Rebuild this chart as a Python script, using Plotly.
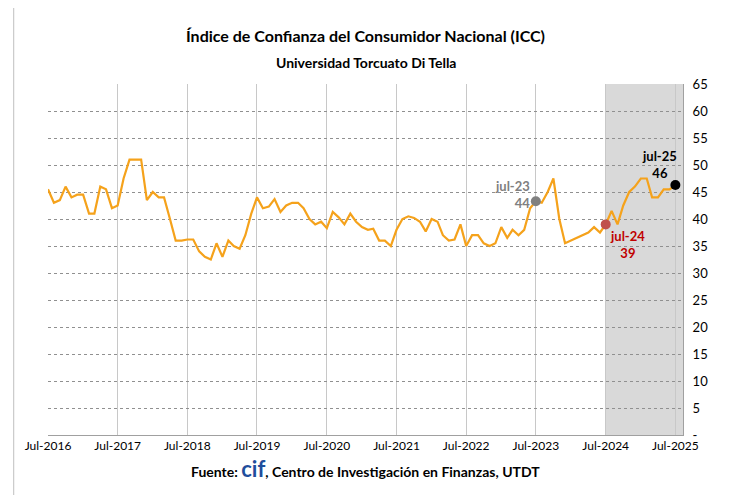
import plotly.graph_objects as go
import pandas as pd

# monthly ICC values, Jul-2016 .. Jul-2025
icc = [45.5, 43, 43.5, 46, 44, 44.5,
       44.5, 41, 41, 46, 45.5, 42, 42.5, 47.5, 51, 51, 51, 43.5,
       45, 44, 44, 40, 36, 36, 36.2, 36.2, 34, 33, 32.5, 35.5,
       33, 36, 35, 34.5, 37, 41, 44, 42, 42.3, 43.7, 41.3, 42.5,
       43, 43, 42, 40, 39, 39.5, 38.3, 41.3, 40.3, 39, 41, 39.5,
       38.5, 38, 38.2, 36, 36, 35, 38, 40, 40.5, 40.2, 39.5, 37.7,
       40, 39.5, 37, 36, 36.2, 39, 35, 37, 37, 35.5, 35, 35.5,
       38.5, 36.5, 38, 37, 38, 42, 43.3, 43, 45, 47.5, 40, 35.5,
       36, 36.5, 37, 37.5, 38.5, 37.5, 39, 41.5, 39, 42.5, 45, 46,
       47.5, 47.5, 44, 44, 45.5, 45.5, 46.3]
dates = pd.date_range("2016-07-01", periods=len(icc), freq="MS")

tick_dates = pd.date_range("2016-07-01", "2025-07-01", freq="12MS")
tick_labels = [d.strftime("Jul-%Y") for d in tick_dates]
y_ticks = list(range(0, 70, 5))
y_labels = ["-"] + [str(v) for v in y_ticks[1:]]

marks = [("2023-07-01", 43.3, "#808080"),
         ("2024-07-01", 39, "#c0504d"),
         ("2025-07-01", 46.3, "black")]

fig = go.Figure()
fig.add_shape(type="rect", xref="x", yref="paper", x0="2024-07-01", x1="2025-08-10",
              y0=0, y1=1, fillcolor="#d9d9d9", line_width=0, layer="below")
fig.add_shape(type="rect", xref="paper", yref="paper", x0=-0.054, x1=1.095,
              y0=-0.175, y1=1.23, fillcolor="rgba(0,0,0,0)",
              line=dict(color="#bfbfbf", width=1))

fig.add_trace(go.Scatter(x=dates, y=icc, mode="lines",
                         line=dict(color="#f5a21b", width=2.2), hoverinfo="skip"))
for d, v, c in marks:
    fig.add_trace(go.Scatter(x=[d], y=[v], mode="markers", cliponaxis=False,
                             marker=dict(color=c, size=10), hoverinfo="skip"))

fig.add_annotation(x="2023-07-01", y=43.3, text="<b>jul-23<br>44</b>", showarrow=False,
                   xanchor="right", yanchor="bottom", xshift=-4, yshift=-12,
                   align="right", font=dict(family="Lato", size=13, color="#808080"))
fig.add_annotation(x="2024-07-01", y=39, text="<b>jul-24<br>39</b>", showarrow=False,
                   xanchor="left", yanchor="top", xshift=2, yshift=-2,
                   align="center", font=dict(family="Lato", size=13, color="#c00000"))
fig.add_annotation(x="2025-07-01", y=46.3, text="<b>jul-25<br>46</b>", showarrow=False,
                   xanchor="right", yanchor="bottom", xshift=4, yshift=2,
                   align="center", font=dict(family="Lato", size=13, color="black"))

fig.add_annotation(xref="paper", yref="paper", x=0.5, y=1.17, showarrow=False,
                   text="<b>Índice de Confianza del Consumidor Nacional (ICC)</b>",
                   font=dict(family="Lato", size=16, color="black"))
fig.add_annotation(xref="paper", yref="paper", x=0.5, y=1.09, showarrow=False,
                   text="<b>Universidad Torcuato Di Tella</b>",
                   font=dict(family="Lato", size=14, color="black"))
fig.add_annotation(xref="paper", yref="paper", x=0.5, y=-0.14, showarrow=False,
                   text="<b>Fuente: <span style='font-size:22px;color:#1f4e9c'>cif</span>, Centro de Investigación en Finanzas, UTDT</b>",
                   font=dict(family="Lato", size=14, color="black"))

fig.update_layout(
    width=730, height=495, showlegend=False,
    margin=dict(l=40, r=55, t=76, b=68),
    plot_bgcolor="white", paper_bgcolor="white",
    xaxis=dict(range=["2016-07-01", "2025-08-10"], tickvals=tick_dates, ticktext=tick_labels,
               showgrid=True, gridcolor="#c8c8c8", gridwidth=1, showline=True,
               linecolor="#a0a0a0", tickfont=dict(family="Lato", size=12, color="black"),
               zeroline=False),
    yaxis=dict(range=[0, 65], side="right", tickvals=y_ticks, ticktext=y_labels,
               showgrid=True, gridcolor="#909090", griddash="dot", showline=True,
               linecolor="#a0a0a0", tickfont=dict(family="Lato", size=13, color="black"),
               zeroline=False, ticklabelstandoff=6),
)
fig.write_html("out.html")
